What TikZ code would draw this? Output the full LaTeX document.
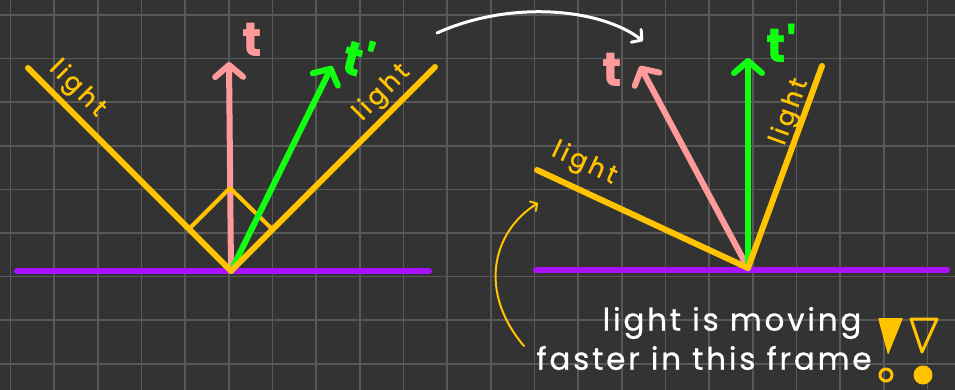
\documentclass[tikz,border=0pt]{standalone}
\usepackage{fontspec}
\setmainfont{Poppins}
\newfontfamily\lbl[LetterSpace=14,FakeBold=1.2]{Poppins}
\newfontfamily\notefont[LetterSpace=9,FakeBold=0.8]{Poppins}
\usetikzlibrary{arrows.meta}
\definecolor{bg}{HTML}{333333}
\definecolor{gridc}{HTML}{585858}
\definecolor{ylw}{HTML}{FFC300}
\definecolor{pnk}{HTML}{FF9A9A}
\definecolor{grn}{HTML}{11FF11}
\definecolor{prp}{HTML}{AA11FF}
\tikzset{
  floor/.style={prp, line width=6pt, line cap=round},
  ray/.style={ylw, line width=6pt, line cap=round, line join=round},
  thinray/.style={ylw, line width=4pt, line join=round},
  vec/.style={line width=6pt, line cap=round, -{Straight Barb[length=12pt,width=28pt,round]}},
  lightlbl/.style={ylw, font=\lbl\fontsize{25}{25}\selectfont, inner sep=0pt},
  tlbl/.style={font=\bfseries\fontsize{48}{48}\selectfont, inner sep=0pt},
  note/.style={white, font=\notefont\fontsize{31}{34}\selectfont, inner sep=0pt},
}
\begin{document}
\begin{tikzpicture}[x=1pt,y=-1pt]
\useasboundingbox (0,0) rectangle (955,390);
\fill[bg] (0,0) rectangle (955,390);
\foreach \k in {0,...,21} \draw[gridc, line width=1.5pt] ({10.5+43.67*\k},0) -- ({10.5+43.67*\k},390);
\foreach \k in {0,...,8} \draw[gridc, line width=1.5pt] (0,{15+43.6*\k}) -- (955,{15+43.6*\k});

% ---------- left diagram ----------
\coordinate (LV) at (231,271);
\coordinate (LF1) at (17,271);
\coordinate (LF2) at (429,271);
\coordinate (LL1) at (28,68);
\coordinate (LL2) at (435,67);
\coordinate (SqT) at (230,188);
\coordinate (SqL) at (190,228);
\coordinate (SqR) at (272,229);
\coordinate (LT) at (229,62);
\coordinate (LTp) at (332,66);
\draw[floor] (LF1) -- (LF2);
\draw[pnk, vec] (LV) -- (LT);
\draw[thinray] (SqL) -- (SqT) -- (SqR);
\draw[grn, vec] (LV) -- (LTp);
\draw[ray] (LL1) -- (LV) -- (LL2);
\node[tlbl, pnk] (lt) at (252,40) {t};
\node[tlbl, grn, rotate=-15] (ltp) at (359,58) {t\textquotesingle};
\node[lightlbl, rotate=-45] (ll1) at (77,89) {light};
\node[lightlbl, rotate=45] (ll2) at (382,93) {light};

% curved transition arrow
\coordinate (A1) at (437,33);
\coordinate (A2) at (643,41);
\draw[white, line width=3pt, line cap=round, -{Straight Barb[length=7pt,width=16pt,round]}]
  (A1) .. controls (510,0) and (600,8) .. (A2);

% ---------- right diagram ----------
\coordinate (RV) at (748,268);
\coordinate (RF1) at (536,270);
\coordinate (RF2) at (947,270);
\coordinate (RL1) at (537,170);
\coordinate (RL2) at (822,66);
\coordinate (RT) at (640,66);
\coordinate (RTp) at (748,58);
\draw[floor] (RF1) -- (RF2);
\draw[pnk, vec] (RV) -- (RT);
\draw[grn, vec] (RV) -- (RTp);
\draw[ray] (RL1) -- (RV) -- (RL2);
\node[tlbl, pnk] (rt) at (612,70) {t};
\node[tlbl, grn] (rtp) at (782,43) {t\textquotesingle};
\node[lightlbl, rotate=-25] (rl1) at (584,164) {light};
\node[lightlbl, rotate=70] (rl2) at (790,112) {light};

% note
\node[note] (nt1) at (732,323) {light is moving};
\node[note] (nt2) at (704,358) {faster in this frame};
\coordinate (C1) at (524,346);
\coordinate (C2) at (538,203);
\draw[ylw, line width=2pt, line cap=round, -{Straight Barb[length=5pt,width=11pt,round]}]
  (C1) .. controls (478,292) and (492,232) .. (C2);
% exclamation marks
\fill[ylw, rounded corners=1pt] (878,318) -- (903,318) -- (888,355) -- cycle;
\draw[ylw, line width=3pt] (886,375) circle (6);
\draw[ylw, line width=3pt, line join=round] (911,319) -- (937,319) -- (922,352) -- cycle;
\fill[ylw] (923,375) circle (9.5);
\end{tikzpicture}
\end{document}
